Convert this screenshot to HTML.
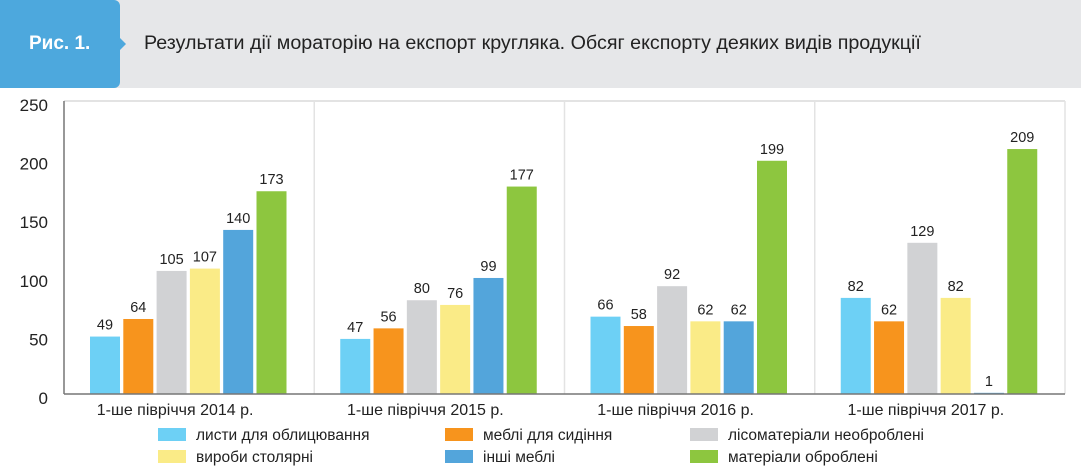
<!DOCTYPE html>
<html><head><meta charset="utf-8"><style>
body{margin:0;background:#fff;font-family:"Liberation Sans","DejaVu Sans",sans-serif}
#wrap{position:relative;width:1081px;height:472px;overflow:hidden}
</style></head><body>
<div id="wrap">
<div style="position:absolute;left:0;top:0;width:1081px;height:88px;background:#e6e7e9"></div>
<div style="position:absolute;left:0;top:0;width:120px;height:88px;background:#4da8dd;border-radius:0 6px 6px 0;color:#fff;font-weight:bold;font-size:19px;line-height:88px;text-indent:29px">Рис. 1.</div>
<div style="position:absolute;left:120px;top:38px;width:0;height:0;border-top:6px solid transparent;border-bottom:6px solid transparent;border-left:6px solid #4da8dd"></div>
<div style="position:absolute;left:144px;top:32px;font-size:19.7px;color:#222;white-space:nowrap">Результати дії мораторію на експорт кругляка. Обсяг експорту деяких видів продукції</div>
<svg id="chart" width="1081" height="472" style="position:absolute;left:0;top:0"></svg>
</div>
<script>
const categories=["1-ше півріччя 2014 р.","1-ше півріччя 2015 р.","1-ше півріччя 2016 р.","1-ше півріччя 2017 р."];
const seriesNames=["листи для облицювання","меблі для сидіння","лісоматеріали необроблені","вироби столярні","інші меблі","матеріали оброблені"];
const s1=[49,47,66,82];
const s2=[64,56,58,62];
const s3=[105,80,92,129];
const s4=[107,76,62,82];
const s5=[140,99,62,1];
const s6=[173,177,199,209];
const yTicks=[0,50,100,150,200,250];
const colors=["#6dd0f5","#f7941d","#d1d2d4","#faeb87","#53a5db","#8dc63f"];
const series=[s1,s2,s3,s4,s5,s6];
const NS="http://www.w3.org/2000/svg";
const svg=document.getElementById('chart');
const x0=64,x1=1065,yb=394,yt=101,ymax=250;
const yScale=v=>yb-(v/ymax)*(yb-yt);
const gw=(x1-x0)/categories.length;
const xBar=(g,i)=>x0+g*gw+26+i*33.3;
function mk(t,a){const e=document.createElementNS(NS,t);for(const k in a)e.setAttribute(k,a[k]);svg.appendChild(e);return e;}
let e=mk('line',{x1:x0,y1:yt,x2:x1,y2:yt,stroke:'#e3e3e3','stroke-width':2});


for(let g=1;g<=categories.length;g++){
 e=mk('line',{x1:x0+g*gw,y1:yt,x2:x0+g*gw,y2:yb,stroke:'#e3e3e3','stroke-width':1.5});
 
 
}
yTicks.forEach(t=>{
 e=mk('text',{x:48,y:yScale(t)+10,'text-anchor':'end','font-size':17,fill:'#222'});
 e.textContent=t;
 
 
});
categories.forEach((c,g)=>{
 series.forEach((s,i)=>{
  const v=s[g],x=xBar(g,i),y=yScale(v);
  e=mk('rect',{x:x,y:y,width:30,height:yb-y,fill:colors[i]});
  
  
  e=mk('text',{x:x+15,y:y-7,'text-anchor':'middle','font-size':14.5,fill:'#222'});
  e.textContent=v;
  
  
 });
 e=mk('text',{x:x0+g*gw+gw/2-14,y:415,'text-anchor':'middle','font-size':16,fill:'#222'});
 e.textContent=c;
 
 
});
e=mk('line',{x1:x0,y1:yt,x2:x0,y2:yb,stroke:'#777','stroke-width':1.5});


e=mk('line',{x1:x0,y1:yb,x2:x1,y2:yb,stroke:'#777','stroke-width':1.5});


const lx=[158,445,690],ly=[428,450];
seriesNames.forEach((n,i)=>{
 const cx=lx[i%3],cy=ly[Math.floor(i/3)];
 e=mk('rect',{x:cx,y:cy,width:28,height:13,fill:colors[i]});
 
 
 e=mk('text',{x:cx+38,y:cy+12,'font-size':15.5,fill:'#222'});
 e.textContent=n;
 
 
});
</script>
</body></html>
